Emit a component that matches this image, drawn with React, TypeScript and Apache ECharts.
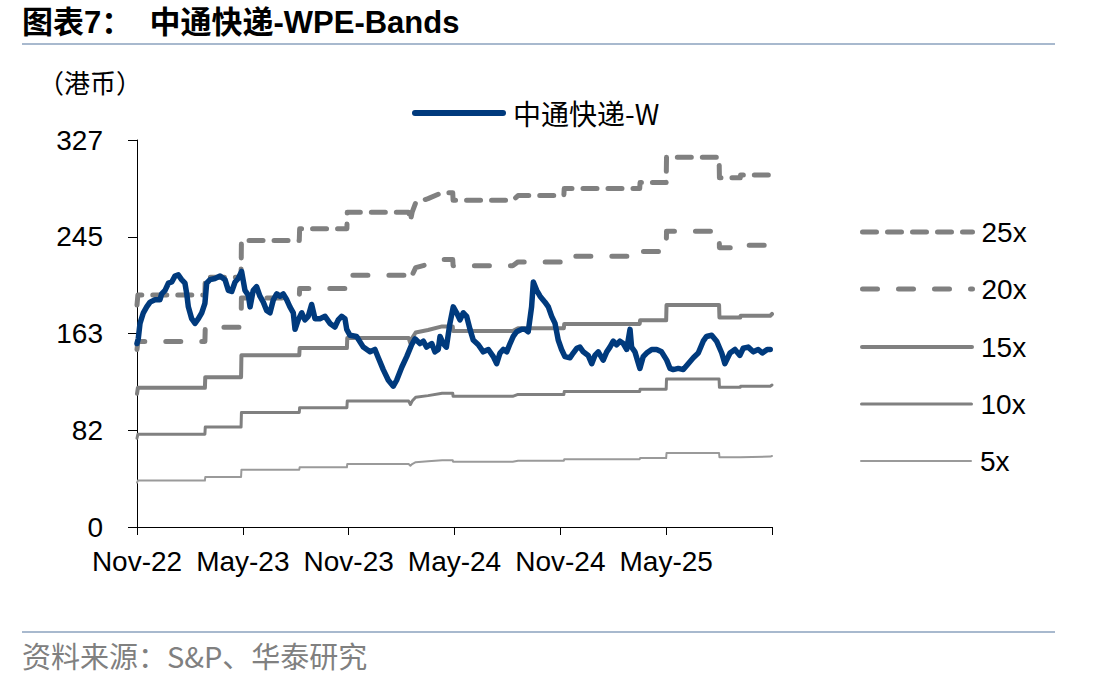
import React, { useEffect, useRef } from 'react';
import * as echarts from 'echarts';

// ---------- data ----------
const xTickLabels = ['Nov-22', 'May-23', 'Nov-23', 'May-24', 'Nov-24', 'May-25', ''];
const yTickLabels = ['0', '82', '163', '245', '327'];

const priceName = '中通快递-W';
// months elapsed since Nov-2022
const priceMonths = [
  0, 0.07, 0.17, 0.36, 0.55, 0.74, 1.02, 1.3, 1.4, 1.59, 1.78, 1.97, 2.15, 2.34, 2.53, 2.72,
  2.82, 2.91, 3.1, 3.29, 3.48, 3.67, 3.85, 3.95, 4.14, 4.42, 4.71, 4.99, 5.18, 5.37, 5.56,
  5.74, 5.93, 6.12, 6.31, 6.41, 6.59, 6.78, 6.97, 7.16, 7.35, 7.54, 7.73, 7.92, 8.11, 8.29,
  8.49, 8.67, 8.86, 8.96, 9.14, 9.34, 9.52, 9.71, 9.9, 10.09, 10.37, 10.66, 10.94, 11.22,
  11.41, 11.6, 11.79, 11.89, 12.07, 12.45, 12.83, 13.21, 13.49, 13.68, 13.96, 14.25, 14.53,
  14.72, 15.01, 15.29, 15.57, 15.76, 16.04, 16.23, 16.42, 16.71, 16.89, 17.08, 17.18, 17.36,
  17.54, 17.74, 17.93, 18.12, 18.31, 18.5, 18.69, 18.88, 19.06, 19.35, 19.63, 19.92, 20.2,
  20.39, 20.58, 20.77, 20.96, 21.15, 21.33, 21.52, 21.81, 22.0, 22.18, 22.37, 22.47, 22.66,
  22.85, 23.13, 23.32, 23.51, 23.7, 23.88, 24.07, 24.26, 24.55, 24.73, 24.93, 25.11, 25.3,
  25.58, 25.78, 25.96, 26.15, 26.43, 26.63, 26.81, 27.0, 27.19, 27.38, 27.57, 27.76, 27.95,
  28.04, 28.23, 28.51, 28.7, 28.89, 29.18, 29.46, 29.74, 30.03, 30.22, 30.4, 30.69, 30.97,
  31.25, 31.54, 31.82, 32.1, 32.29, 32.58, 32.86, 33.15, 33.33, 33.62, 33.9, 34.18, 34.37,
  34.65, 34.94, 35.22, 35.45, 35.73, 35.9,
];
const priceValues = [
  155, 159, 172, 181, 186, 190, 192, 192, 197, 200, 206, 207, 212, 213, 209, 206,
  197, 186, 176, 172, 176, 181, 189, 206, 209, 210, 212, 209, 200, 199, 207,
  210, 216, 200, 196, 186, 200, 203, 195, 190, 183, 181, 192, 197, 195, 197,
  192, 186, 181, 167, 175, 181, 175, 178, 188, 176, 176, 178, 172, 169,
  175, 178, 176, 167, 162, 161, 152, 148, 150, 143, 133, 124, 119,
  124, 135, 144, 154, 159, 155, 157, 152, 155, 148, 150, 161, 155,
  152, 172, 186, 181, 175, 181, 178, 167, 158, 154, 148, 150, 144,
  138, 147, 150, 148, 155, 161, 165, 167, 167, 165, 186, 207, 200,
  195, 190, 186, 178, 172, 158, 150, 144, 143, 147, 151, 152, 148,
  145, 138, 145, 148, 141, 148, 152, 157, 154, 157, 155, 150, 167,
  152, 148, 134, 144, 147, 150, 150, 148, 141, 134, 133, 134, 133,
  138, 143, 147, 157, 161, 162, 157, 147, 138, 147, 150, 145, 151,
  152, 148, 150, 147, 150, 150,
];

// forward EPS used for the PE bands (HKD), months since Nov-2022
const epsMonths = [
  0, 0.05, 3.85, 3.87, 5.9, 5.92, 9.2, 9.22, 11.9, 11.92, 15.4, 15.5, 15.6, 15.8, 16.5, 17.3,
  17.9, 17.92, 21.3, 21.6, 24.2, 24.22, 28.5, 28.52, 30.0, 30.02, 33.0, 33.02, 34.2, 34.22, 35.9, 36,
];
const epsValues = [
  7.5, 7.84, 7.84, 8.44, 8.44, 9.68, 9.68, 10.08, 10.08, 10.64, 10.64, 10.35, 10.64, 10.96, 11.1, 11.3,
  11.3, 11.04, 11.04, 11.2, 11.2, 11.44, 11.44, 11.64, 11.64, 12.5, 12.5, 11.8, 11.8, 11.9, 11.9, 12.0,
];
const bandMultiples = [25, 20, 15, 10, 5];
const bandNames = ['25x', '20x', '15x', '10x', '5x'];

// ---------- styles ----------
const LATIN = '"Liberation Sans", Arial, "Noto Sans CJK SC", sans-serif';
const CJK = '"Noto Sans CJK SC", "Liberation Sans", sans-serif';
const PRICE_COLOR = '#003A7D';
const bandStyles = [
  { width: 5, type: [14, 11], color: '#808080' },
  { width: 5, type: [15, 21], color: '#808080' },
  { width: 4, type: 'solid', color: '#808080' },
  { width: 3, type: 'solid', color: '#808080' },
  { width: 2, type: 'solid', color: '#9a9a9a' },
];
const bandLegendCenters = [232, 289, 347, 404, 461];
const hiddenSymbol = { opacity: 0, color: 'rgba(0,0,0,0)', borderWidth: 0 };

export default function App() {
  const ref = useRef<HTMLDivElement>(null);

  useEffect(() => {
    if (!ref.current) return;
    const chart = echarts.init(ref.current, undefined, { renderer: 'svg' });

    const priceData = priceMonths.map((m, i) => [m, priceValues[i]]);

    const bandSeries = bandMultiples.map((k, bi) => ({
      name: bandNames[bi],
      type: 'line',
      symbol: 'none',
      z: 2,
      data: epsMonths.map((m, i) => [m, +(epsValues[i] * k).toFixed(2)]),
      lineStyle: {
        color: bandStyles[bi].color,
        width: bandStyles[bi].width,
        type: bandStyles[bi].type as any,
        cap: 'round',
        join: 'round',
      },
      itemStyle: { color: bandStyles[bi].color },
    }));

    const bandLegends = bandNames.map((n, bi) => ({
      data: [n],
      left: 860,
      top: bandLegendCenters[bi] - 14,
      padding: 0,
      itemWidth: 110,
      itemHeight: 14,
      selectedMode: false,
      itemStyle: hiddenSymbol,
      textStyle: { fontSize: 28, color: '#000', fontFamily: LATIN, padding: [0, 0, 0, 4] },
      lineStyle: { width: bandStyles[bi].width, type: bandStyles[bi].type as any, cap: 'round' },
    }));

    chart.setOption({
      animation: false,
      backgroundColor: '#ffffff',
      grid: { left: 137, top: 140, width: 635, height: 387, containLabel: false },
      legend: [
        {
          data: [priceName],
          left: 412,
          top: 113 - 14,
          padding: 0,
          itemWidth: 88,
          itemHeight: 14,
          selectedMode: false,
          itemStyle: hiddenSymbol,
          textStyle: { fontSize: 28, color: '#000', fontFamily: CJK, padding: [0, 0, 0, 5] },
          lineStyle: { width: 6 },
        },
        ...bandLegends,
      ],
      xAxis: {
        type: 'value',
        min: 0,
        max: 36,
        interval: 6,
        axisLine: { show: true, onZero: false, lineStyle: { color: '#000', width: 1 } },
        axisTick: { show: true, length: 8, inside: false, lineStyle: { color: '#000' } },
        axisLabel: {
          fontSize: 28,
          color: '#000',
          fontFamily: LATIN,
          margin: 20,
          formatter: (v: number) => xTickLabels[Math.round(v / 6)] ?? '',
        },
        splitLine: { show: false },
      },
      yAxis: {
        type: 'value',
        min: 0,
        max: 327,
        interval: 81.75,
        axisLine: { show: true, lineStyle: { color: '#000', width: 1 } },
        axisTick: { show: true, length: 9, inside: false, lineStyle: { color: '#000' } },
        axisLabel: {
          fontSize: 28,
          color: '#000',
          fontFamily: LATIN,
          margin: 34,
          formatter: (_v: number, i: number) => yTickLabels[i] ?? '',
        },
        splitLine: { show: false },
      },
      series: [
        ...bandSeries,
        {
          name: priceName,
          type: 'line',
          symbol: 'none',
          z: 5,
          data: priceData,
          lineStyle: { color: PRICE_COLOR, width: 5.5, join: 'round', cap: 'round' },
          itemStyle: { color: PRICE_COLOR },
        },
      ],
      graphic: [
        {
          type: 'text',
          left: 22,
          top: 7,
          style: {
            text: '图表7：\u00A0\u00A0中通快递-WPE-Bands',
            fill: '#000',
            font: `bold 31px ${LATIN}`,
          },
        },
        {
          type: 'line',
          shape: { x1: 22, y1: 44, x2: 1055, y2: 44 },
          style: { stroke: '#A8B9CE', lineWidth: 2 },
        },
        {
          type: 'text',
          left: 38,
          top: 68,
          style: { text: '（港币）', fill: '#000', font: `26px ${CJK}` },
        },
        {
          type: 'line',
          shape: { x1: 22, y1: 632, x2: 1055, y2: 632 },
          style: { stroke: '#A8B9CE', lineWidth: 2 },
        },
        {
          type: 'text',
          left: 22,
          top: 640,
          style: { text: '资料来源：S&P、华泰研究', fill: '#808080', font: `29px ${CJK}` },
        },
      ],
    });

    return () => chart.dispose();
  }, []);

  return (
    <div
      ref={ref}
      style={{ position: 'absolute', left: 0, top: 0, width: 1112, height: 686, background: '#fff' }}
    />
  );
}
